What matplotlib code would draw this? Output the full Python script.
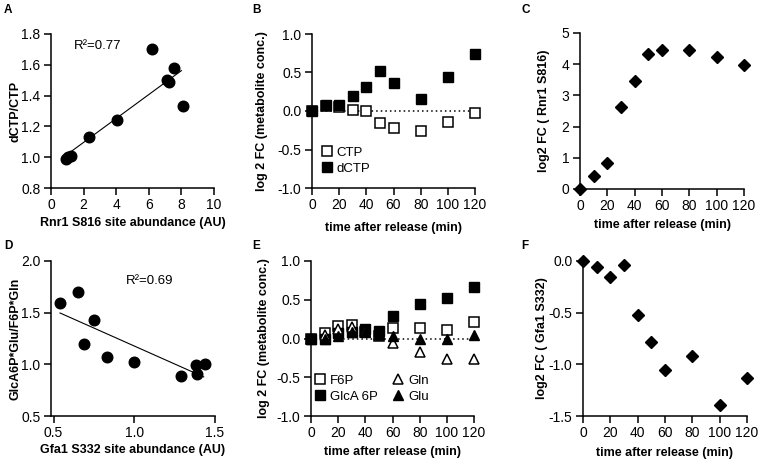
import numpy as np
import matplotlib
matplotlib.use("Agg")
import matplotlib.pyplot as plt

plt.rcParams["font.family"] = ["Liberation Sans", "DejaVu Sans"]
plt.rcParams["axes.linewidth"] = 1.1
plt.rcParams["axes.unicode_minus"] = False

# A: dCTP/CTP vs Rnr1 S816 site abundance
a_x = [0.95, 1.05, 1.25, 2.35, 4.05, 6.2, 7.1, 7.25, 7.55, 8.1]
a_y = [0.99, 1.00, 1.01, 1.13, 1.24, 1.70, 1.50, 1.49, 1.58, 1.33]

# time course (min)
times = [0, 10, 20, 30, 40, 50, 60, 80, 100, 120]

# B: metabolite log2 FC
ctp = [0.0, 0.06, 0.05, 0.01, 0.0, -0.15, -0.22, -0.26, -0.14, -0.03]
dctp = [0.0, 0.08, 0.08, 0.19, 0.31, 0.52, 0.37, 0.16, 0.44, 0.74]

# C: log2 FC Rnr1 S816
rnr1 = [0.0, 0.43, 0.84, 2.64, 3.47, 4.33, 4.47, 4.45, 4.22, 3.97]

# D: GlcA6P*Glu/F6P*Gln vs Gfa1 S332 site abundance
d_x = [0.54, 0.65, 0.75, 0.69, 0.83, 1.0, 1.29, 1.38, 1.39, 1.44]
d_y = [1.59, 1.70, 1.43, 1.20, 1.07, 1.02, 0.89, 0.99, 0.91, 1.00]

# E: metabolite log2 FC
f6p = [0.0, 0.07, 0.16, 0.18, 0.08, 0.03, 0.14, 0.13, 0.11, 0.21]
glca6p = [0.0, 0.0, 0.07, 0.09, 0.12, 0.10, 0.29, 0.45, 0.52, 0.66]
gln = [0.0, 0.04, 0.12, 0.15, 0.10, 0.05, -0.06, -0.18, -0.26, -0.27]
glu = [0.0, 0.0, 0.03, 0.08, 0.08, 0.06, 0.03, 0.0, 0.0, 0.05]

# F: log2 FC Gfa1 S332
gfa1 = [0.0, -0.055, -0.155, -0.04, -0.52, -0.78, -1.05, -0.92, -1.39, -1.135]

W, H = 758, 459
fig = plt.figure(figsize=(W / 100, H / 100), dpi=100)


def add_ax(left, right, top, bottom):
    return fig.add_axes([left / W, 1 - bottom / H, (right - left) / W, (bottom - top) / H])


def style(ax, xlabel, ylabel, xl, yl):
    for s in ("top", "right"):
        ax.spines[s].set_visible(False)
    ax.tick_params(direction="out", length=5, width=1.1, labelsize=10, pad=2.5)
    ax.set_xlabel(xlabel, fontsize=9, fontweight="bold")
    ax.set_ylabel(ylabel, fontsize=9, fontweight="bold")
    ax.xaxis.set_label_coords(0.5, xl)
    ax.yaxis.set_label_coords(yl, 0.5)


TL = "time after release (min)"
FC = "log 2 FC (metabolite conc.)"

# ---- A
ax = add_ax(51, 214, 34, 188)
ax.scatter(a_x, a_y, s=58, color="black", zorder=3, clip_on=False)
k, b = np.polyfit(a_x, a_y, 1)
xx = np.array([1.2, 8.0])
ax.plot(xx, k * xx + b, color="black", lw=0.8)
ax.set_xlim(0, 10)
ax.set_ylim(0.8, 1.8)
ax.set_xticks([0, 2, 4, 6, 8, 10])
ax.set_yticks([0.8, 1.0, 1.2, 1.4, 1.6, 1.8])
ax.text(1.4, 1.72, "R²=0.77", fontsize=9.5, va="center")
style(ax, "Rnr1 S816 site abundance (AU)", "dCTP/CTP", -0.186, -0.18)

# ---- B
ax = add_ax(312, 475, 34, 188)
ax.plot([0, 120], [0, 0], color="black", lw=1.1, ls=(0, (1, 2)))
ax.plot(times, ctp, "s", ms=6.5, mfc="white", mec="black", mew=1.1,
        label="CTP", clip_on=False, zorder=3)
ax.plot(times, dctp, "s", ms=6.5, color="black", label="dCTP",
        clip_on=False, zorder=3)
ax.set_xlim(0, 120)
ax.set_ylim(-1, 1)
ax.set_xticks([0, 20, 40, 60, 80, 100, 120])
ax.set_yticks([-1.0, -0.5, 0.0, 0.5, 1.0])
ax.legend(loc="lower left", bbox_to_anchor=(0.02, 0.05), frameon=False,
          fontsize=9.5, handletextpad=0.2, borderaxespad=0, labelspacing=0.3,
          handlelength=1.0)
style(ax, TL, FC, -0.22, -0.27)

# ---- C
ax = add_ax(580, 744, 33, 189)
ax.plot(times, rnr1, "D", ms=6.5, color="black", clip_on=False, zorder=3)
ax.set_xlim(0, 120)
ax.set_ylim(0, 5)
ax.set_xticks([0, 20, 40, 60, 80, 100, 120])
ax.set_yticks([0, 1, 2, 3, 4, 5])
style(ax, TL, "log2 FC ( Rnr1 S816)", -0.19, -0.18)

# ---- D
ax = add_ax(51, 215, 261, 416)
ax.scatter(d_x, d_y, s=58, color="black", zorder=3, clip_on=False)
k, b = np.polyfit(d_x, d_y, 1)
xx = np.array([min(d_x), 1.43])
ax.plot(xx, k * xx + b, color="black", lw=0.8)
ax.set_xlim(0.484, 1.5)
ax.set_ylim(0.5, 2.0)
ax.set_xticks([0.5, 1.0, 1.5])
ax.set_yticks([0.5, 1.0, 1.5, 2.0])
ax.text(0.95, 1.81, "R²=0.69", fontsize=9.5, va="center")
style(ax, "Gfa1 S332 site abundance (AU)", "GlcA6P*Glu/F6P*Gln", -0.182, -0.182)

# ---- E
ax = add_ax(311, 474, 261, 416)
ax.plot([0, 120], [0, 0], color="black", lw=1.1, ls=(0, (1, 2)))
h1, = ax.plot(times, f6p, "s", ms=6.5, mfc="white", mec="black", mew=1.1,
              clip_on=False, zorder=3)
h2, = ax.plot(times, glca6p, "s", ms=6.5, color="black", clip_on=False, zorder=3)
h3, = ax.plot(times, gln, "^", ms=6.5, mfc="white", mec="black", mew=1.1,
              clip_on=False, zorder=3)
h4, = ax.plot(times, glu, "^", ms=6.5, color="black", clip_on=False, zorder=3)
ax.set_xlim(0, 120)
ax.set_ylim(-1, 1)
ax.set_xticks([0, 20, 40, 60, 80, 100, 120])
ax.set_yticks([-1.0, -0.5, 0.0, 0.5, 1.0])
ax.legend([h1, h2, h3, h4], ["F6P", "GlcA 6P", "Gln", "Glu"], ncol=2,
          loc="lower left", bbox_to_anchor=(-0.02, 0.05), frameon=False,
          fontsize=9.5, handletextpad=0.3, borderaxespad=0, labelspacing=0.3,
          handlelength=1.0, columnspacing=1.0)
style(ax, TL, FC, -0.196, -0.25)

# ---- F
ax = add_ax(583, 747, 261, 416)
ax.plot(times, gfa1, "D", ms=6.5, color="black", clip_on=False, zorder=3)
ax.set_xlim(0, 120)
ax.set_ylim(-1.5, 0)
ax.set_xticks([0, 20, 40, 60, 80, 100, 120])
ax.set_yticks([-1.5, -1.0, -0.5, 0.0])
style(ax, TL, "log2 FC ( Gfa1 S332)", -0.2, -0.215)

# panel letters
for letter, x, y in [("A", 4, 10), ("B", 252, 10), ("C", 521, 10),
                     ("D", 4, 246), ("E", 252, 246), ("F", 521, 246)]:
    fig.text(x / W, 1 - y / H, letter, fontsize=8.5, fontweight="bold",
             va="center", ha="left")

fig.savefig("out.png", dpi=100)
